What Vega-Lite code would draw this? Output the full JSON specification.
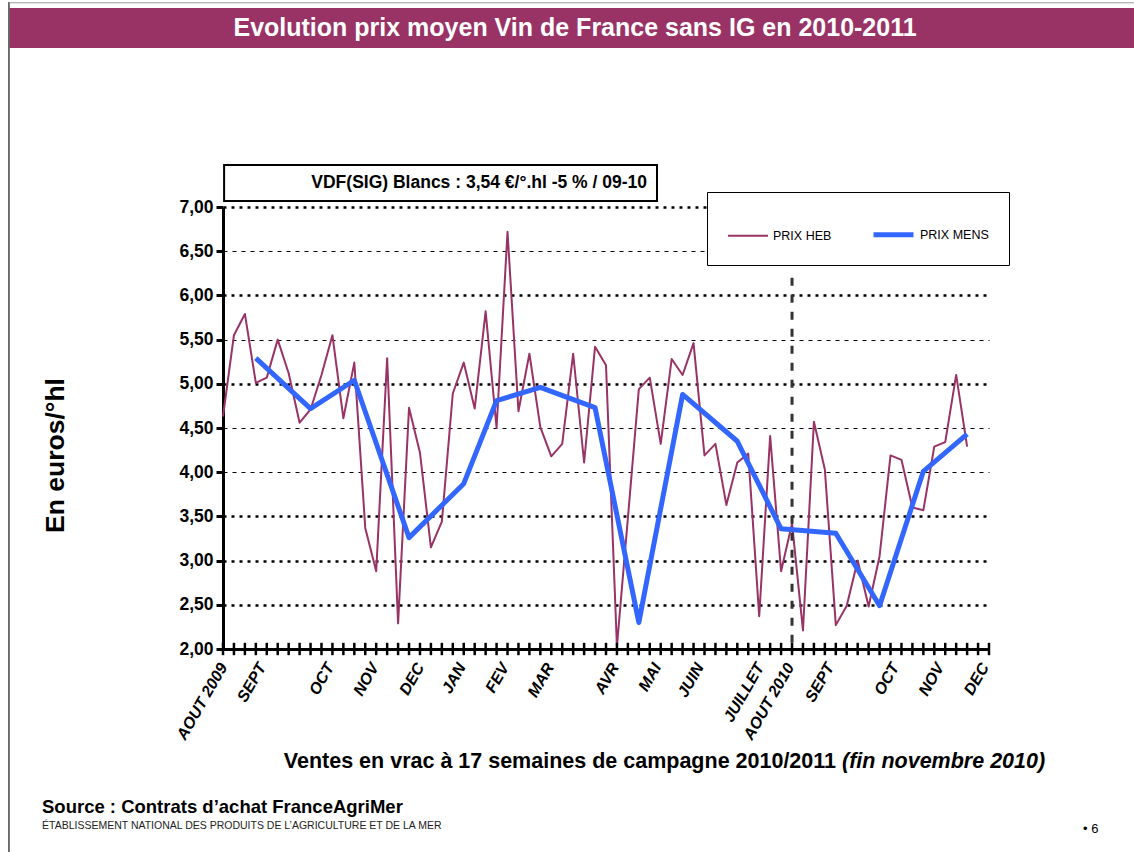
{
  "$schema": "https://vega.github.io/schema/vega-lite/v6.json",
  "width": 766,
  "height": 442,
  "autosize": {"type": "none"},
  "padding": {"left": 223, "top": 207, "right": 145, "bottom": 203},
  "background": "white",
  "config": {
    "font": "Liberation Sans",
    "view": {"stroke": null}
  },
  "resolve": {"axis": {"x": "independent", "y": "independent"}},
  "datasets": {
    "prix": [
      {"semaine": 0, "prix": 4.63, "serie": "PRIX HEB"},
      {"semaine": 1, "prix": 5.55, "serie": "PRIX HEB"},
      {"semaine": 2, "prix": 5.79, "serie": "PRIX HEB"},
      {"semaine": 3, "prix": 5.01, "serie": "PRIX HEB"},
      {"semaine": 4, "prix": 5.07, "serie": "PRIX HEB"},
      {"semaine": 5, "prix": 5.50, "serie": "PRIX HEB"},
      {"semaine": 6, "prix": 5.12, "serie": "PRIX HEB"},
      {"semaine": 7, "prix": 4.56, "serie": "PRIX HEB"},
      {"semaine": 8, "prix": 4.71, "serie": "PRIX HEB"},
      {"semaine": 9, "prix": 5.10, "serie": "PRIX HEB"},
      {"semaine": 10, "prix": 5.55, "serie": "PRIX HEB"},
      {"semaine": 11, "prix": 4.61, "serie": "PRIX HEB"},
      {"semaine": 12, "prix": 5.24, "serie": "PRIX HEB"},
      {"semaine": 13, "prix": 3.37, "serie": "PRIX HEB"},
      {"semaine": 14, "prix": 2.88, "serie": "PRIX HEB"},
      {"semaine": 15, "prix": 5.29, "serie": "PRIX HEB"},
      {"semaine": 16, "prix": 2.29, "serie": "PRIX HEB"},
      {"semaine": 17, "prix": 4.73, "serie": "PRIX HEB"},
      {"semaine": 18, "prix": 4.22, "serie": "PRIX HEB"},
      {"semaine": 19, "prix": 3.15, "serie": "PRIX HEB"},
      {"semaine": 20, "prix": 3.44, "serie": "PRIX HEB"},
      {"semaine": 21, "prix": 4.89, "serie": "PRIX HEB"},
      {"semaine": 22, "prix": 5.24, "serie": "PRIX HEB"},
      {"semaine": 23, "prix": 4.72, "serie": "PRIX HEB"},
      {"semaine": 24, "prix": 5.82, "serie": "PRIX HEB"},
      {"semaine": 25, "prix": 4.50, "serie": "PRIX HEB"},
      {"semaine": 26, "prix": 6.72, "serie": "PRIX HEB"},
      {"semaine": 27, "prix": 4.69, "serie": "PRIX HEB"},
      {"semaine": 28, "prix": 5.34, "serie": "PRIX HEB"},
      {"semaine": 29, "prix": 4.51, "serie": "PRIX HEB"},
      {"semaine": 30, "prix": 4.18, "serie": "PRIX HEB"},
      {"semaine": 31, "prix": 4.32, "serie": "PRIX HEB"},
      {"semaine": 32, "prix": 5.34, "serie": "PRIX HEB"},
      {"semaine": 33, "prix": 4.11, "serie": "PRIX HEB"},
      {"semaine": 34, "prix": 5.42, "serie": "PRIX HEB"},
      {"semaine": 35, "prix": 5.21, "serie": "PRIX HEB"},
      {"semaine": 36, "prix": 2.03, "serie": "PRIX HEB"},
      {"semaine": 37, "prix": 3.48, "serie": "PRIX HEB"},
      {"semaine": 38, "prix": 4.94, "serie": "PRIX HEB"},
      {"semaine": 39, "prix": 5.07, "serie": "PRIX HEB"},
      {"semaine": 40, "prix": 4.32, "serie": "PRIX HEB"},
      {"semaine": 41, "prix": 5.28, "serie": "PRIX HEB"},
      {"semaine": 42, "prix": 5.10, "serie": "PRIX HEB"},
      {"semaine": 43, "prix": 5.46, "serie": "PRIX HEB"},
      {"semaine": 44, "prix": 4.19, "serie": "PRIX HEB"},
      {"semaine": 45, "prix": 4.32, "serie": "PRIX HEB"},
      {"semaine": 46, "prix": 3.63, "serie": "PRIX HEB"},
      {"semaine": 47, "prix": 4.11, "serie": "PRIX HEB"},
      {"semaine": 48, "prix": 4.21, "serie": "PRIX HEB"},
      {"semaine": 49, "prix": 2.37, "serie": "PRIX HEB"},
      {"semaine": 50, "prix": 4.41, "serie": "PRIX HEB"},
      {"semaine": 51, "prix": 2.88, "serie": "PRIX HEB"},
      {"semaine": 52, "prix": 3.42, "serie": "PRIX HEB"},
      {"semaine": 53, "prix": 2.21, "serie": "PRIX HEB"},
      {"semaine": 54, "prix": 4.57, "serie": "PRIX HEB"},
      {"semaine": 55, "prix": 4.03, "serie": "PRIX HEB"},
      {"semaine": 56, "prix": 2.27, "serie": "PRIX HEB"},
      {"semaine": 57, "prix": 2.49, "serie": "PRIX HEB"},
      {"semaine": 58, "prix": 3.00, "serie": "PRIX HEB"},
      {"semaine": 59, "prix": 2.48, "serie": "PRIX HEB"},
      {"semaine": 60, "prix": 3.05, "serie": "PRIX HEB"},
      {"semaine": 61, "prix": 4.19, "serie": "PRIX HEB"},
      {"semaine": 62, "prix": 4.14, "serie": "PRIX HEB"},
      {"semaine": 63, "prix": 3.60, "serie": "PRIX HEB"},
      {"semaine": 64, "prix": 3.57, "serie": "PRIX HEB"},
      {"semaine": 65, "prix": 4.29, "serie": "PRIX HEB"},
      {"semaine": 66, "prix": 4.34, "serie": "PRIX HEB"},
      {"semaine": 67, "prix": 5.10, "serie": "PRIX HEB"},
      {"semaine": 68, "prix": 4.29, "serie": "PRIX HEB"},
      {"semaine": 3, "prix": 5.29, "serie": "PRIX MENS"},
      {"semaine": 8, "prix": 4.72, "serie": "PRIX MENS"},
      {"semaine": 12, "prix": 5.04, "serie": "PRIX MENS"},
      {"semaine": 17, "prix": 3.26, "serie": "PRIX MENS"},
      {"semaine": 22, "prix": 3.87, "serie": "PRIX MENS"},
      {"semaine": 25, "prix": 4.81, "serie": "PRIX MENS"},
      {"semaine": 29, "prix": 4.96, "serie": "PRIX MENS"},
      {"semaine": 34, "prix": 4.73, "serie": "PRIX MENS"},
      {"semaine": 38, "prix": 2.30, "serie": "PRIX MENS"},
      {"semaine": 42, "prix": 4.88, "serie": "PRIX MENS"},
      {"semaine": 47, "prix": 4.35, "serie": "PRIX MENS"},
      {"semaine": 51, "prix": 3.36, "serie": "PRIX MENS"},
      {"semaine": 56, "prix": 3.31, "serie": "PRIX MENS"},
      {"semaine": 60, "prix": 2.49, "serie": "PRIX MENS"},
      {"semaine": 64, "prix": 4.01, "serie": "PRIX MENS"},
      {"semaine": 68, "prix": 4.43, "serie": "PRIX MENS"}
    ],
    "semaines": [
      {"semaine": 0}, {"semaine": 1}, {"semaine": 2}, {"semaine": 3}, {"semaine": 4}, {"semaine": 5}, {"semaine": 6}, {"semaine": 7}, {"semaine": 8}, {"semaine": 9},
      {"semaine": 10}, {"semaine": 11}, {"semaine": 12}, {"semaine": 13}, {"semaine": 14}, {"semaine": 15}, {"semaine": 16}, {"semaine": 17}, {"semaine": 18}, {"semaine": 19},
      {"semaine": 20}, {"semaine": 21}, {"semaine": 22}, {"semaine": 23}, {"semaine": 24}, {"semaine": 25}, {"semaine": 26}, {"semaine": 27}, {"semaine": 28}, {"semaine": 29},
      {"semaine": 30}, {"semaine": 31}, {"semaine": 32}, {"semaine": 33}, {"semaine": 34}, {"semaine": 35}, {"semaine": 36}, {"semaine": 37}, {"semaine": 38}, {"semaine": 39},
      {"semaine": 40}, {"semaine": 41}, {"semaine": 42}, {"semaine": 43}, {"semaine": 44}, {"semaine": 45}, {"semaine": 46}, {"semaine": 47}, {"semaine": 48}, {"semaine": 49},
      {"semaine": 50}, {"semaine": 51}, {"semaine": 52}, {"semaine": 53}, {"semaine": 54}, {"semaine": 55}, {"semaine": 56}, {"semaine": 57}, {"semaine": 58}, {"semaine": 59},
      {"semaine": 60}, {"semaine": 61}, {"semaine": 62}, {"semaine": 63}, {"semaine": 64}, {"semaine": 65}, {"semaine": 66}, {"semaine": 67}, {"semaine": 68}, {"semaine": 69},
      {"semaine": 70}
    ]
  },
  "layer": [
    {
      "data": {"name": "prix"},
      "mark": {"type": "line", "strokeJoin": "round"},
      "encoding": {
        "x": {
          "field": "semaine",
          "type": "quantitative",
          "scale": {"domain": [0, 70], "nice": false, "zero": false},
          "axis": {
            "orient": "bottom",
            "values": [0, 3.55, 9.75, 13.85, 18, 21.8, 25.75, 29.85, 35.8, 39.65, 43.55, 49.05, 51.8, 55.45, 61.4, 65.5, 69.6],
            "labelExpr": "datum.value == 0 ? 'AOUT 2009' : datum.value == 3.55 ? 'SEPT' : datum.value == 9.75 ? 'OCT' : datum.value == 13.85 ? 'NOV' : datum.value == 18 ? 'DEC' : datum.value == 21.8 ? 'JAN' : datum.value == 25.75 ? 'FEV' : datum.value == 29.85 ? 'MAR' : datum.value == 35.8 ? 'AVR' : datum.value == 39.65 ? 'MAI' : datum.value == 43.55 ? 'JUIN' : datum.value == 49.05 ? 'JUILLET' : datum.value == 51.8 ? 'AOUT 2010' : datum.value == 55.45 ? 'SEPT' : datum.value == 61.4 ? 'OCT' : datum.value == 65.5 ? 'NOV' : datum.value == 69.6 ? 'DEC' : ''",
            "domain": true,
            "domainColor": "black",
            "domainWidth": 3,
            "grid": false,
            "ticks": true,
            "tickSize": 8,
            "tickOpacity": 0,
            "labelAngle": -60,
            "labelAlign": "right",
            "labelBaseline": "middle",
            "labelFont": "Liberation Sans",
            "labelFontWeight": "bold",
            "labelFontStyle": "italic",
            "labelFontSize": 16,
            "labelColor": "black",
            "labelPadding": 7,
            "labelOverlap": false,
            "labelFlush": false,
            "labelBound": false,
            "title": null
          }
        },
        "y": {
          "field": "prix",
          "type": "quantitative",
          "scale": {"domain": [2, 7], "nice": false, "zero": false},
          "axis": {
            "orient": "left",
            "values": [2, 2.5, 3, 3.5, 4, 4.5, 5, 5.5, 6, 6.5, 7],
            "labelExpr": "replace(format(datum.value, '.2f'), '.', ',')",
            "domainColor": "black",
            "domainWidth": 3,
            "tickColor": "black",
            "tickWidth": 3,
            "tickSize": 7,
            "labelFont": "Liberation Sans",
            "labelFontWeight": "bold",
            "labelFontSize": 17.5,
            "labelColor": "black",
            "labelPadding": 3,
            "grid": true,
            "gridColor": "black",
            "gridOpacity": 1,
            "gridWidth": {"condition": {"test": "datum.value == 4 || datum.value == 4.5 || datum.value == 5.5 || datum.value == 6.5", "value": 1.2}, "value": 2.5},
            "gridDash": {"condition": {"test": "datum.value == 4 || datum.value == 4.5 || datum.value == 5.5 || datum.value == 6.5", "value": [4, 5]}, "value": [3, 5]},
            "title": "En euros/°hl",
            "titleFont": "Liberation Sans",
            "titleFontSize": 26.5,
            "titleFontWeight": "bold",
            "titleColor": "black",
            "titleAngle": -90,
            "titleX": -168,
            "titleY": 248,
            "titleAlign": "center",
            "titleBaseline": "middle"
          }
        },
        "color": {
          "field": "serie",
          "type": "nominal",
          "scale": {"domain": ["PRIX HEB", "PRIX MENS"], "range": ["#993366", "#3366FF"]},
          "legend": {
            "title": null,
            "orient": "none",
            "legendX": 484,
            "legendY": -15,
            "direction": "horizontal",
            "strokeColor": "black",
            "fillColor": "white",
            "padding": 20,
            "symbolType": "stroke",
            "symbolSize": 1600,
            "labelFont": "Liberation Sans",
            "labelFontSize": 12.5,
            "labelColor": "black",
            "labelOffset": 4,
            "columnPadding": 31
          }
        },
        "strokeWidth": {
          "field": "serie",
          "type": "nominal",
          "scale": {"domain": ["PRIX HEB", "PRIX MENS"], "range": [2, 5]},
          "legend": {
            "title": null,
            "orient": "none",
            "legendX": 484,
            "legendY": -15,
            "direction": "horizontal",
            "strokeColor": "black",
            "fillColor": "white",
            "padding": 20,
            "symbolType": "stroke",
            "symbolSize": 1600,
            "labelFont": "Liberation Sans",
            "labelFontSize": 12.5,
            "labelColor": "black",
            "labelOffset": 4,
            "columnPadding": 31
          }
        }
      }
    },
    {
      "data": {"name": "semaines"},
      "mark": {"type": "rule", "color": "black", "strokeWidth": 2.5},
      "encoding": {
        "x": {"field": "semaine", "type": "quantitative", "axis": null},
        "y": {"datum": 2.07, "type": "quantitative", "axis": null},
        "y2": {"datum": 1.93}
      }
    },
    {
      "data": {"values": [{"t": ""}]},
      "mark": {"type": "rect", "color": "#993366"},
      "encoding": {
        "x": {"datum": -19.5, "type": "quantitative", "axis": null},
        "x2": {"datum": 84},
        "y": {"datum": 9.251, "type": "quantitative", "axis": null},
        "y2": {"datum": 8.799}
      }
    },
    {
      "data": {"values": [{"t": "Evolution prix moyen Vin de France sans IG en 2010-2011"}]},
      "mark": {"type": "text", "color": "white", "font": "Liberation Sans", "fontWeight": "bold", "fontSize": 25, "align": "center", "baseline": "middle"},
      "encoding": {
        "x": {"datum": 32.17, "type": "quantitative", "axis": null},
        "y": {"datum": 9.025, "type": "quantitative", "axis": null},
        "text": {"field": "t"}
      }
    },
    {
      "data": {"values": [{"t": ""}]},
      "mark": {"type": "rule", "color": "#444444", "strokeWidth": 1.5},
      "encoding": {
        "x": {"datum": -19.56, "type": "quantitative", "axis": null},
        "y": {"datum": 9.32, "type": "quantitative", "axis": null},
        "y2": {"datum": -0.5}
      }
    },
    {
      "data": {"values": [{"t": ""}]},
      "mark": {"type": "rule", "color": "#999999", "strokeWidth": 1},
      "encoding": {
        "x": {"datum": -19.56, "type": "quantitative", "axis": null},
        "x2": {"datum": 84},
        "y": {"datum": 9.31, "type": "quantitative", "axis": null}
      }
    },
    {
      "data": {"values": [{"t": ""}]},
      "mark": {"type": "rect", "fill": "white", "stroke": "black", "strokeWidth": 2},
      "encoding": {
        "x": {"datum": 0.1, "type": "quantitative", "axis": null},
        "x2": {"datum": 39.66},
        "y": {"datum": 7.475, "type": "quantitative", "axis": null},
        "y2": {"datum": 7.068}
      }
    },
    {
      "data": {"values": [{"t": "VDF(SIG) Blancs : 3,54 €/°.hl -5 % / 09-10"}]},
      "mark": {"type": "text", "color": "black", "font": "Liberation Sans", "fontWeight": "bold", "fontSize": 17.5, "align": "right", "baseline": "middle"},
      "encoding": {
        "x": {"datum": 38.75, "type": "quantitative", "axis": null},
        "y": {"datum": 7.271, "type": "quantitative", "axis": null},
        "text": {"field": "t"}
      }
    },
    {
      "data": {"values": [{"t": ""}]},
      "mark": {"type": "rule", "color": "#333333", "strokeWidth": 3, "strokeDash": [8, 9]},
      "encoding": {
        "x": {"datum": 52, "type": "quantitative", "axis": null},
        "y": {"datum": 6.2, "type": "quantitative", "axis": null},
        "y2": {"datum": 2}
      }
    },
    {
      "data": {"values": [{"t": "Ventes en vrac à 17 semaines de campagne 2010/2011"}]},
      "mark": {"type": "text", "color": "black", "font": "Liberation Sans", "fontWeight": "bold", "fontSize": 21.5, "align": "right", "baseline": "middle"},
      "encoding": {
        "x": {"datum": 56.02, "type": "quantitative", "axis": null},
        "y": {"datum": 0.722, "type": "quantitative", "axis": null},
        "text": {"field": "t"}
      }
    },
    {
      "data": {"values": [{"t": "(fin novembre 2010)"}]},
      "mark": {"type": "text", "color": "black", "font": "Liberation Sans", "fontWeight": "bold", "fontStyle": "italic", "fontSize": 21.5, "align": "left", "baseline": "middle"},
      "encoding": {
        "x": {"datum": 56.57, "type": "quantitative", "axis": null},
        "y": {"datum": 0.722, "type": "quantitative", "axis": null},
        "text": {"field": "t"}
      }
    },
    {
      "data": {"values": [{"t": "Source : Contrats d’achat FranceAgriMer"}]},
      "mark": {"type": "text", "color": "black", "font": "Liberation Sans", "fontWeight": "bold", "fontSize": 18.5, "align": "left", "baseline": "alphabetic"},
      "encoding": {
        "x": {"datum": -16.54, "type": "quantitative", "axis": null},
        "y": {"datum": 0.145, "type": "quantitative", "axis": null},
        "text": {"field": "t"}
      }
    },
    {
      "data": {"values": [{"t": "ÉTABLISSEMENT NATIONAL DES PRODUITS DE L’AGRICULTURE ET DE LA MER"}]},
      "mark": {"type": "text", "color": "#222222", "font": "Liberation Sans Narrow, Liberation Sans", "fontSize": 10.5, "align": "left", "baseline": "alphabetic"},
      "encoding": {
        "x": {"datum": -16.54, "type": "quantitative", "axis": null},
        "y": {"datum": -0.036, "type": "quantitative", "axis": null},
        "text": {"field": "t"}
      }
    },
    {
      "data": {"values": [{"t": "• 6"}]},
      "mark": {"type": "text", "color": "black", "font": "Liberation Sans", "fontSize": 13, "align": "left", "baseline": "alphabetic"},
      "encoding": {
        "x": {"datum": 78.59, "type": "quantitative", "axis": null},
        "y": {"datum": -0.081, "type": "quantitative", "axis": null},
        "text": {"field": "t"}
      }
    }
  ]
}
